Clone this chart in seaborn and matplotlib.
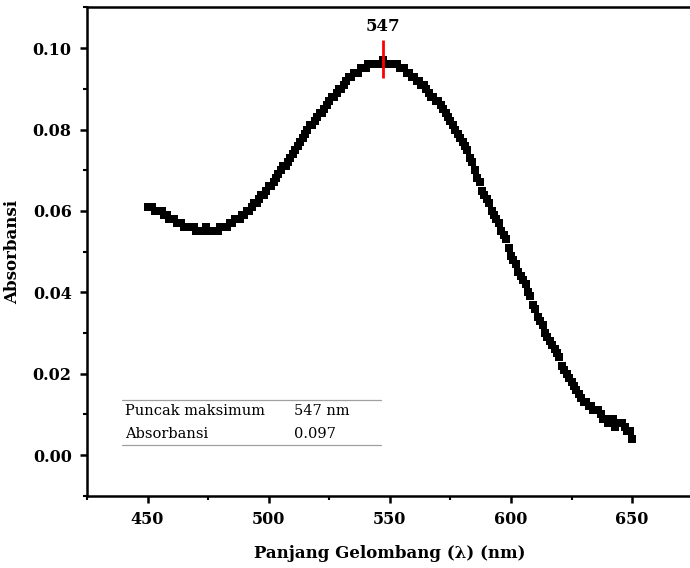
import numpy as np
import pandas as pd
import seaborn as sns
import matplotlib.pyplot as plt
from matplotlib.ticker import MultipleLocator

# wavelength (nm), one reading per nm
wavelength = list(range(450, 651))

# absorbance
absorbance = [
    0.061, 0.061, 0.061, 0.060, 0.060, 0.060, 0.060, 0.059, 0.059, 0.058,  # 450-459
    0.058, 0.058, 0.057, 0.057, 0.057, 0.056, 0.056, 0.056, 0.056, 0.056,  # 460-469
    0.055, 0.055, 0.055, 0.055, 0.056, 0.055, 0.055, 0.055, 0.055, 0.055,  # 470-479
    0.056, 0.056, 0.056, 0.056, 0.057, 0.057, 0.058, 0.058, 0.058, 0.059,  # 480-489
    0.059, 0.060, 0.060, 0.061, 0.062, 0.062, 0.063, 0.064, 0.064, 0.065,  # 490-499
    0.066, 0.066, 0.067, 0.068, 0.069, 0.070, 0.071, 0.071, 0.072, 0.073,  # 500-509
    0.074, 0.075, 0.076, 0.077, 0.078, 0.079, 0.080, 0.081, 0.081, 0.082,  # 510-519
    0.083, 0.084, 0.084, 0.085, 0.086, 0.087, 0.088, 0.088, 0.089, 0.090,  # 520-529
    0.090, 0.091, 0.092, 0.093, 0.093, 0.094, 0.094, 0.094, 0.095, 0.095,  # 530-539
    0.095, 0.096, 0.096, 0.096, 0.096, 0.096, 0.096, 0.097, 0.096, 0.096,  # 540-549
    0.096, 0.096, 0.096, 0.096, 0.095, 0.095, 0.095, 0.094, 0.094, 0.093,  # 550-559
    0.093, 0.092, 0.092, 0.091, 0.091, 0.090, 0.089, 0.088, 0.088, 0.087,  # 560-569
    0.087, 0.086, 0.085, 0.084, 0.083, 0.082, 0.081, 0.080, 0.079, 0.078,  # 570-579
    0.077, 0.076, 0.075, 0.073, 0.072, 0.070, 0.068, 0.067, 0.065, 0.064,  # 580-589
    0.063, 0.062, 0.060, 0.059, 0.058, 0.057, 0.055, 0.054, 0.053, 0.051,  # 590-599
    0.049, 0.048, 0.047, 0.045, 0.044, 0.043, 0.042, 0.040, 0.039, 0.037,  # 600-609
    0.036, 0.034, 0.033, 0.032, 0.030, 0.029, 0.028, 0.027, 0.026, 0.025,  # 610-619
    0.024, 0.022, 0.021, 0.020, 0.019, 0.018, 0.017, 0.016, 0.015, 0.014,  # 620-629
    0.013, 0.013, 0.012, 0.012, 0.011, 0.011, 0.011, 0.010, 0.009, 0.009,  # 630-639
    0.008, 0.009, 0.009, 0.007, 0.008, 0.008, 0.008, 0.007, 0.006, 0.006,  # 640-649
    0.004,                                                                 # 650
]

peak_nm = 547
peak_abs = 0.097
table_rows = [("Puncak maksimum", "547 nm"), ("Absorbansi", "0.097")]

df = pd.DataFrame({"nm": wavelength, "abs": absorbance})

sns.set_style("ticks")
plt.rcParams["font.family"] = ["DejaVu Serif"]
for key in ["text.color", "axes.labelcolor", "xtick.color", "ytick.color",
            "axes.edgecolor"]:
    plt.rcParams[key] = "black"

fig = plt.figure(figsize=(6.9, 5.68), dpi=100)
ax = fig.add_axes([0.126, 0.127, 0.878, 0.86])

sns.scatterplot(data=df, x="nm", y="abs", marker="s", s=26, color="black",
                edgecolor="black", linewidth=0, ax=ax, legend=False)

# peak marker
ax.vlines(peak_nm, 0.0926, 0.1020, color="red", linewidth=2, zorder=3)
ax.text(peak_nm, 0.1033, str(peak_nm), ha="center", va="bottom",
        fontsize=12, fontweight="bold")

# small info table
x0, x1 = 439.3, 546.5
ax.plot([x0, x1], [0.01355, 0.01355], color="#a0a0a0", linewidth=0.9)
ax.plot([x0, x1], [0.00250, 0.00250], color="#a0a0a0", linewidth=0.9)
for (label, val), yy in zip(table_rows, [0.0108, 0.0052]):
    ax.text(440.6, yy, label, fontsize=10.5, va="center", ha="left")
    ax.text(510.6, yy, val, fontsize=10.5, va="center", ha="left")

ax.set_xlim(425, 675)
ax.set_ylim(-0.01, 0.11)
ax.xaxis.set_major_locator(MultipleLocator(50))
ax.xaxis.set_minor_locator(MultipleLocator(25))
ax.yaxis.set_major_locator(MultipleLocator(0.02))
ax.yaxis.set_minor_locator(MultipleLocator(0.01))
ax.set_yticks(np.arange(0, 0.101, 0.02))
ax.set_yticklabels([f"{v:.2f}" for v in np.arange(0, 0.101, 0.02)])

for s in ax.spines.values():
    s.set_linewidth(1.8)
    s.set_color("black")
ax.tick_params(which="major", direction="out", length=5, width=1.8,
               labelsize=11.5, pad=6, colors="black")
ax.tick_params(which="minor", direction="out", length=3, width=1.5,
               colors="black")
for lab in ax.get_xticklabels() + ax.get_yticklabels():
    lab.set_fontweight("bold")

ax.set_xlabel("Panjang Gelombang (λ) (nm)", fontsize=12, fontweight="bold",
              labelpad=12)
ax.set_ylabel("Absorbansi", fontsize=12, fontweight="bold", labelpad=8)

fig.savefig("out.png", dpi=100)
